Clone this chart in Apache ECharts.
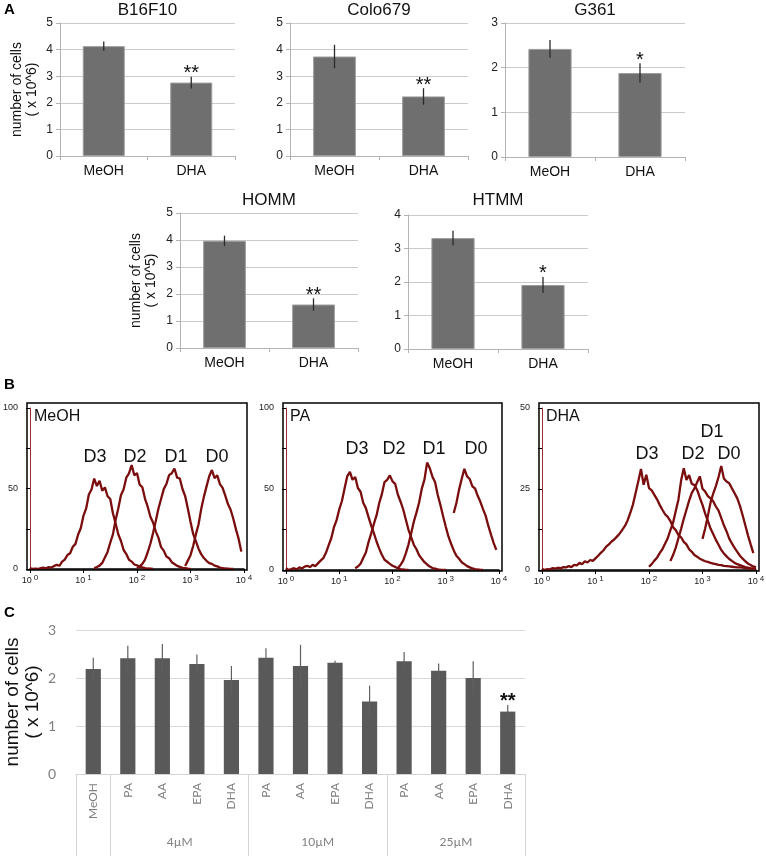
<!DOCTYPE html>
<html><head><meta charset="utf-8">
<script src="https://cdn.jsdelivr.net/npm/echarts@6/dist/echarts.min.js"></script>
<style>html,body{margin:0;padding:0;background:#fff}#c{width:766px;height:858px}</style>
</head><body><div id="c"></div>
<script>
// ---------- Panel A data ----------
const catsA = ['MeOH', 'DHA'];
const b16Mean = [4.13, 2.76], b16Err = [0.17, 0.22], b16Sig = ['', '**'];
const coloMean = [3.74, 2.24], coloErr = [0.44, 0.31], coloSig = ['', '**'];
const g361Mean = [2.42, 1.88], g361Err = [0.2, 0.22], g361Sig = ['', '*'];
const hommMean = [3.97, 1.61], hommErr = [0.19, 0.23], hommSig = ['', '**'];
const htmmMean = [3.31, 1.91], htmmErr = [0.22, 0.24], htmmSig = ['', '*'];

// ---------- Panel B data (log10 fluorescence bins, step 0.05) ----------
const binStep = 0.05;
const decadeLabels = ['0', '1', '2', '3', '4'];
const meohD3Start = 0.0, meohD3 = [0.6,0,0.3,0,0.5,0.8,0.4,1.2,0.9,1.8,2.6,2.0,4.6,5.8,8.7,9.8,13.8,15.6,21.4,25.5,33.2,37.6,46.3,49.4,56.2,51.5,54.8,48.6,50.7,45.2,43.5,34.6,28.3,21.6,17.4,11.8,9.3,5.7,4.6,2.8,2.3,1.4,1.0,0.5,0.3,0.2,0];
const meohD2Start = 1.2, meohD2 = [0.5,1.2,2.1,3.8,7.2,10.6,16.3,21.5,30.4,37.6,45.8,49.5,56.7,59.4,64.5,58.2,59.6,52.4,50.8,43.6,38.7,32.5,28.9,23.4,19.5,13.6,11.4,7.8,6.7,4.2,3.1,1.9,1.3,0.7,0.5,0.2,0];
const meohD1Start = 2.0, meohD1 = [0.5,1.6,3.2,5.8,10.4,15.7,22.3,29.6,37.4,43.5,49.6,52.8,58.3,59.5,62.4,56.8,56.2,49.7,45.3,37.6,29.4,21.8,17.3,12.6,9.2,6.8,5.1,3.7,3.2,2.1,1.6,0.9,0.6,0.3,0.2,0.1,0];
const meohD0Start = 2.9, meohD0 = [1.8,5.2,8.6,14.3,21.5,27.6,37.2,44.8,51.3,57.6,61.5,56.4,58.2,52.7,50.4,45.6,40.3,36.8,31.2,24.6,18.7,10.8];

const paD3Start = 0.0, paD3 = [1.2,0,0.6,1.1,0.4,1.6,0.9,2.1,2.6,1.8,3.2,2.4,4.1,5.8,7.3,10.6,15.2,19.6,26.3,30.8,37.4,42.6,50.3,57.8,60.6,55.7,57.4,50.6,48.3,41.5,38.2,32.6,27.4,22.8,17.6,13.2,9.4,6.3,5.1,3.8,2.6,1.9,1.1,0.6,0.3,0.1,0];
const paD2Start = 1.3, paD2 = [1.1,2.2,3.9,7.4,10.8,17.2,22.6,28.4,33.7,41.2,46.8,54.3,55.6,58.4,54.7,53.2,46.6,42.3,37.5,31.2,24.8,20.3,15.6,12.8,9.1,6.9,4.8,3.4,2.1,1.2,0.8,0.4,0.2,0.1,0];
const paD1Start = 2.1, paD1 = [1.2,3.1,5.8,10.3,15.7,22.6,29.8,35.4,41.7,50.2,55.8,66.3,62.8,57.6,54.2,46.3,40.1,33.2,26.8,20.7,16.2,12.1,8.8,6.9,4.8,3.6,2.4,1.6,1.0,0.6,0.3,0.1,0];
const paD0Start = 3.15, paD0 = [35.2,41.4,49.6,56.3,62.4,57.8,56.2,51.6,50.3,45.8,42.1,37.6,33.4,27.2,21.8,16.6,12.4];

const dhaD3Start = 0.0, dhaD3 = [0.4,0,0.3,0.2,0.6,0.4,0.7,0.5,0.9,0.8,1.2,0.9,1.6,1.4,2.2,1.8,2.7,2.3,3.1,2.8,3.6,4.4,5.3,6.1,7.2,7.9,8.8,9.4,10.3,11.2,12.4,13.6,15.3,17.6,20.2,23.8,27.4,31.2,26.3,29.4,25.3,24.6,23.2,21.8,20.1,18.6,17.2,16.4,15.1,13.2,12.3,10.8,10.1,8.7,7.9,6.4,5.6,4.6,4.1,3.5,3.1,2.7,2.5,2.2,2.0,1.8,1.6,1.5,1.3,1.2,1.1,1.0,0.9,0.8,0.8,0.7,0.6,0.5,0.4,0.4,0.3];
const dhaD2Start = 2.0, dhaD2 = [1.0,1.8,2.9,3.8,5.2,6.4,8.1,9.8,12.3,14.6,18.2,21.7,27.6,31.4,27.8,29.3,26.6,26.2,24.7,22.3,20.1,17.4,15.2,12.8,11.1,9.3,7.8,6.2,5.1,4.2,3.4,2.8,2.2,1.8,1.5,1.2,0.9,0.7,0.5,0.4,0.3];
const dhaD1Start = 2.4, dhaD1 = [2.8,4.6,6.9,9.8,12.7,15.8,18.6,21.4,23.8,25.2,27.1,28.9,25.1,24.2,22.8,22.1,21.2,19.6,18.3,16.1,13.8,11.9,9.7,8.2,6.8,5.6,4.4,3.5,2.7,2.0,1.5,1.1,0.8];
const dhaD0Start = 3.0, dhaD0 = [9.6,12.8,16.7,20.8,23.6,25.9,28.7,32.1,28.2,27.3,26.8,25.2,23.7,22.1,19.8,16.9,13.8,10.7,7.9,5.2];

// ---------- Panel C data ----------
const catsC = ['MeOH','PA','AA','EPA','DHA','PA','AA','EPA','DHA','PA','AA','EPA','DHA'];
const cMean = [2.19,2.41,2.41,2.29,1.96,2.42,2.25,2.32,1.51,2.35,2.15,2.0,1.30];
const cErr  = [0.23,0.26,0.30,0.20,0.29,0.20,0.44,0.04,0.33,0.19,0.15,0.35,0.14];
const cSig  = ['','','','','','','','','','','','','**'];
const groupNames = ['', '4µM', '10µM', '25µM'];
const groupSizes = [1, 4, 4, 4];

// ---------- build ----------
const AR = 'Liberation Sans, Arial, sans-serif';
const CAL = 'Lato, "Open Sans", sans-serif';
const grids = [], xAxes = [], yAxes = [], series = [], titles = [], graphics = [];

function errRender(sig, color, width, starFont, starGap) {
  return function (params, api) {
    const i = api.value(0), m = api.value(1), e = api.value(2);
    const top = api.coord([i, m + e]), bot = api.coord([i, m - e]);
    const ch = [{ type: 'line', shape: { x1: top[0], y1: top[1], x2: bot[0], y2: bot[1] },
      style: { stroke: color, lineWidth: width } }];
    const s = sig[params.dataIndex];
    if (s) ch.push({ type: 'text', x: top[0], y: top[1] + starGap,
      style: { text: s, font: starFont, fill: '#111', align: 'center', verticalAlign: 'bottom',
               textAlign: 'center', textVerticalAlign: 'bottom' } });
    return { type: 'group', children: ch };
  };
}

function addGrid(g) { g.outerBoundsMode = 'none'; g.containLabel = false; grids.push(g); return grids.length - 1; }

function addBarPanel(c) {
  const gi = addGrid(c.grid);
  xAxes.push({ gridIndex: gi, type: 'category', data: catsA,
    axisLine: { lineStyle: { color: '#b3b3b3' } },
    axisTick: { show: true, length: 4, lineStyle: { color: '#b3b3b3' } },
    axisLabel: { color: '#111', fontSize: 14, fontFamily: AR, margin: 8 } });
  const yi = yAxes.length;
  yAxes.push({ gridIndex: gi, type: 'value', min: 0, max: c.yMax, interval: 1,
    axisLine: { show: true, lineStyle: { color: '#b3b3b3' } },
    axisTick: { show: true, length: 4, lineStyle: { color: '#b3b3b3' } },
    axisLabel: { color: '#222', fontSize: 12, fontFamily: AR, margin: 7 },
    splitLine: { lineStyle: { color: '#cacaca' } },
    name: c.yName || '', nameLocation: 'middle', nameGap: c.nameGap || 0,
    nameTextStyle: { color: '#111', fontSize: 14, fontFamily: AR, lineHeight: 15 } });
  const xi = xAxes.length - 1;
  series.push({ type: 'bar', xAxisIndex: xi, yAxisIndex: yi, data: c.mean, barWidth: '48%', silent: true,
    itemStyle: { color: '#6f6f6f', borderColor: '#9c9c9c', borderWidth: 1 } });
  series.push({ type: 'custom', xAxisIndex: xi, yAxisIndex: yi, silent: true, z: 5,
    data: c.mean.map((m, i) => [i, m, c.err[i]]),
    renderItem: errRender(c.sig, '#2a2a2a', 1.3, '20px ' + AR, 7) });
  titles.push({ text: c.title, left: c.grid.left + c.grid.width / 2, top: c.titleTop, textAlign: 'center', padding: 0,
    textStyle: { fontSize: 17, fontWeight: 'normal', color: '#111', fontFamily: AR } });
}

addBarPanel({ grid: { left: 60, top: 23, width: 175, height: 133 }, title: 'B16F10', titleTop: 2,
  mean: b16Mean, err: b16Err, sig: b16Sig, yMax: 5, yName: 'number of cells\n( x 10^6)', nameGap: 20 });
addBarPanel({ grid: { left: 290, top: 23, width: 178, height: 133 }, title: 'Colo679', titleTop: 2,
  mean: coloMean, err: coloErr, sig: coloSig, yMax: 5 });
addBarPanel({ grid: { left: 505, top: 23, width: 180, height: 134 }, title: 'G361', titleTop: 2,
  mean: g361Mean, err: g361Err, sig: g361Sig, yMax: 3 });
addBarPanel({ grid: { left: 180, top: 213, width: 178, height: 135 }, title: 'HOMM', titleTop: 192,
  mean: hommMean, err: hommErr, sig: hommSig, yMax: 5, yName: 'number of cells\n( x 10^5)', nameGap: 21 });
addBarPanel({ grid: { left: 408, top: 215, width: 180, height: 134 }, title: 'HTMM', titleTop: 192,
  mean: htmmMean, err: htmmErr, sig: htmmSig, yMax: 4 });

// ---------- histograms ----------
const RED = '#7a0d0d';
function curve(start, vals) { return vals.map((v, i) => [start + i * binStep, v]); }

function addHist(c) {
  const gi = addGrid(c.grid);
  const xi = xAxes.length;
  xAxes.push({ gridIndex: gi, type: 'value', min: 0, max: 4, interval: 1,
    axisLine: { lineStyle: { color: '#000', width: 1.5 } },
    axisTick: { length: 4, lineStyle: { color: '#000' } },
    axisLabel: { margin: 5, formatter: v => '{b|10}{s|' + decadeLabels[v] + '}',
      rich: { b: { fontSize: 9, fontFamily: AR, color: '#222' },
              s: { fontSize: 8, fontFamily: AR, color: '#222', padding: [0, 0, 6, 2] } } },
    splitLine: { show: false } });
  const yi = yAxes.length;
  yAxes.push({ gridIndex: gi, type: 'value', position: 'left', min: 0, max: c.yMax, interval: c.yMax / 4, offset: 2,
    axisLine: { show: false }, axisTick: { show: true, length: 4, lineStyle: { color: '#000' } },
    axisLabel: { fontSize: 9, fontFamily: AR, color: '#222', margin: 10,
      formatter: v => (v % (c.yMax / 2) === 0 ? String(v) : '') },
    splitLine: { show: false } });
  yAxes.push({ gridIndex: gi, type: 'value', position: 'left', offset: 0, min: 0, max: c.yMax,
    axisLine: { show: true, lineStyle: { color: '#9a3030', width: 1 } },
    axisTick: { show: false }, axisLabel: { show: false }, splitLine: { show: false } });
  c.curves.forEach(cv => {
    series.push({ type: 'line', xAxisIndex: xi, yAxisIndex: yi, data: curve(cv[0], cv[1]),
      showSymbol: false, silent: true, lineStyle: { color: RED, width: 2.3 } });
  });
  const g = c.grid;
  graphics.push({ type: 'rect', shape: { x: g.left - 3, y: g.top - 5, width: g.width + 6, height: g.height + 6 },
    style: { fill: 'none', stroke: '#000', lineWidth: 1.5 }, z: 10 });
  graphics.push({ type: 'text', x: g.left + 4, y: g.top + 1,
    style: { text: c.name, font: '16px ' + AR, fill: '#111' }, z: 11 });
  c.peaks.forEach(p => graphics.push({ type: 'text', x: p[1], y: p[2],
    style: { text: p[0], font: '18px ' + AR, fill: '#111', align: 'center', verticalAlign: 'middle',
             textAlign: 'center', textVerticalAlign: 'middle' }, z: 11 }));
}

addHist({ grid: { left: 30, top: 408, width: 214, height: 161 }, yMax: 100, name: 'MeOH',
  curves: [[meohD3Start, meohD3], [meohD2Start, meohD2], [meohD1Start, meohD1], [meohD0Start, meohD0]],
  peaks: [['D3', 95, 457], ['D2', 135, 457], ['D1', 176, 457], ['D0', 217, 457]] });
addHist({ grid: { left: 286, top: 408, width: 213, height: 162 }, yMax: 100, name: 'PA',
  curves: [[paD3Start, paD3], [paD2Start, paD2], [paD1Start, paD1], [paD0Start, paD0]],
  peaks: [['D3', 357, 449], ['D2', 394, 449], ['D1', 434, 449], ['D0', 476, 449]] });
addHist({ grid: { left: 542, top: 408, width: 214, height: 162 }, yMax: 50, name: 'DHA',
  curves: [[dhaD3Start, dhaD3], [dhaD2Start, dhaD2], [dhaD1Start, dhaD1], [dhaD0Start, dhaD0]],
  peaks: [['D3', 647, 454], ['D2', 693, 454], ['D1', 712, 432], ['D0', 729, 454]] });

// ---------- Panel C ----------
(function () {
  const gi = addGrid({ left: 76, top: 630, width: 449, height: 144 });
  const xi = xAxes.length;
  xAxes.push({ gridIndex: gi, type: 'category', data: catsC,
    axisLine: { lineStyle: { color: '#d4d4d4' } }, axisTick: { show: false },
    axisLabel: { rotate: 90, interval: 0, color: '#7f7f7f', fontSize: 12, fontFamily: CAL, margin: 9 } });
  const bounds = [0]; groupSizes.forEach(s => bounds.push(bounds[bounds.length - 1] + s));
  const centers = groupSizes.map((s, i) => bounds[i] + s / 2);
  const total = bounds[bounds.length - 1];
  xAxes.push({ gridIndex: gi, type: 'value', min: 0, max: total, position: 'bottom',
    axisLine: { show: false },
    axisTick: { show: true, customValues: bounds, length: 82, lineStyle: { color: '#d4d4d4' } },
    axisLabel: { customValues: centers.filter((c, i) => groupNames[i]), margin: 62, color: '#7f7f7f', fontSize: 12, fontFamily: CAL,
      formatter: v => groupNames[centers.indexOf(v)] || '' },
    splitLine: { show: false } });
  const yi = yAxes.length;
  yAxes.push({ gridIndex: gi, type: 'value', min: 0, max: 3, interval: 1,
    axisLine: { show: false }, axisTick: { show: false },
    axisLabel: { color: '#7f7f7f', fontSize: 14, fontFamily: CAL, margin: 20 },
    splitLine: { lineStyle: { color: '#d9d9d9' } },
    name: 'number of cells\n( x 10^6)', nameLocation: 'middle', nameGap: 33, nameMoveOverlap: false,
    nameTextStyle: { color: '#111', fontSize: 19, fontFamily: AR, lineHeight: 20 } });
  series.push({ type: 'bar', xAxisIndex: xi, yAxisIndex: yi, data: cMean, barWidth: '44%', silent: true,
    itemStyle: { color: '#595959' } });
  series.push({ type: 'custom', xAxisIndex: xi, yAxisIndex: yi, silent: true, z: 5,
    data: cMean.map((m, i) => [i, m, cErr[i]]),
    renderItem: errRender(cSig, '#5f5f5f', 1.2, 'bold 20px ' + AR, 7) });
})();

// panel letters
[['A', 2], ['B', 377], ['C', 605]].forEach(l => graphics.push({ type: 'text', x: 4, y: l[1],
  style: { text: l[0], font: 'bold 15px ' + AR, fill: '#000' }, z: 11 }));

const chart = echarts.init(document.getElementById('c'), null, { renderer: 'canvas' });
chart.setOption({
  animation: false, backgroundColor: '#fff',
  title: titles, grid: grids, xAxis: xAxes, yAxis: yAxes, series: series, graphic: graphics
});
</script>
</body></html>
